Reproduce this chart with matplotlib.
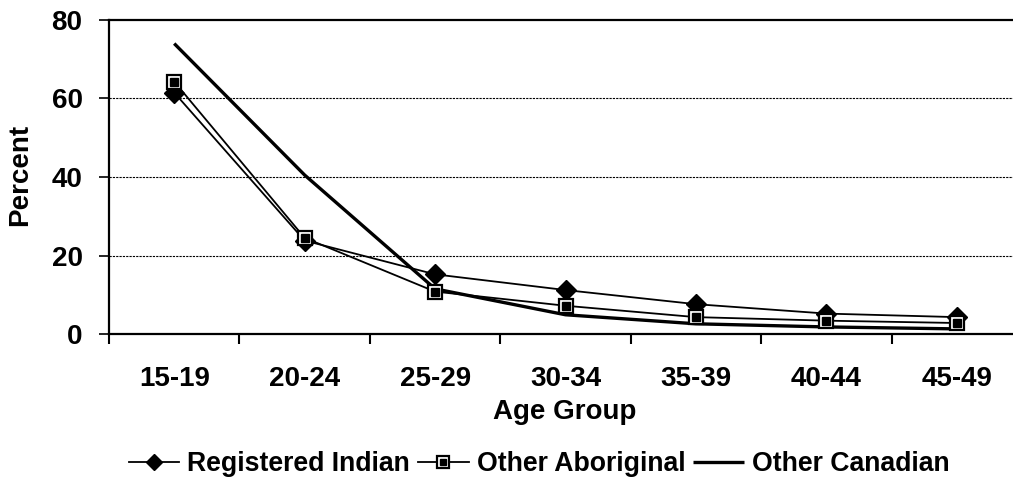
import matplotlib
matplotlib.use("Agg")
import matplotlib.pyplot as plt
from matplotlib.legend_handler import HandlerTuple
import numpy as np

categories = ["15-19", "20-24", "25-29", "30-34", "35-39", "40-44", "45-49"]
registered_indian = [61.5, 23.8, 15.2, 11.2, 7.6, 5.2, 4.3]
other_aboriginal = [64.3, 24.5, 10.8, 7.2, 4.3, 3.4, 2.8]
other_canadian = [74.0, 40.5, 11.5, 4.9, 2.6, 1.8, 1.3]
y_ticks = [0, 20, 40, 60, 80]

plt.rcParams['font.family'] = ['Liberation Sans', 'DejaVu Sans']
plt.rcParams['font.weight'] = 'bold'

W, H = 1013, 478
fig = plt.figure(figsize=(W / 100, H / 100), dpi=100)
ax = fig.add_axes([109 / W, (H - 334) / H, 913 / W, 314 / H])

x = np.arange(len(categories))

l_oc, = ax.plot(x, other_canadian, color='black', lw=2.4, solid_capstyle='butt', zorder=3)
l_ri, = ax.plot(x, registered_indian, color='black', lw=1.3, marker='D', markersize=10.5,
                markerfacecolor='black', markeredgecolor='black', zorder=4)
l_oa, = ax.plot(x, other_aboriginal, color='black', lw=1.3, marker='s', markersize=10,
                markerfacecolor='white', markeredgecolor='black', markeredgewidth=1.6, zorder=5)
l_oa2, = ax.plot(x, other_aboriginal, linestyle='none', marker='s', markersize=6,
                 markerfacecolor='black', markeredgecolor='black', zorder=6)

ax.set_xlim(-0.5, len(categories) - 0.5)
ax.set_ylim(0, 80)
ax.set_yticks(y_ticks)
ax.set_yticklabels([str(v) for v in y_ticks], fontsize=20, fontweight='bold')
ax.set_xticks(x)
ax.set_xticklabels(categories, fontsize=20, fontweight='bold')
ax.set_xticks(np.arange(-0.5, len(categories)), minor=True)
ax.tick_params(axis='x', which='major', length=0, pad=23)
ax.tick_params(axis='x', which='minor', length=7, width=1.5, direction='out')
ax.tick_params(axis='y', which='major', length=7, width=1.2, direction='out', pad=12)

for yv in y_ticks[1:-1]:
    ax.axhline(yv, color='black', lw=0.8, linestyle=(0, (2, 1)), zorder=1)

ax.spines['right'].set_visible(False)
for s in ['left', 'bottom', 'top']:
    ax.spines[s].set_linewidth(1.6)

fig.text(20 / W, 1 - 175 / H, "Percent", rotation=90, ha='center', va='center',
         fontsize=20, fontweight='bold')
fig.text(565 / W, 1 - 412 / H, "Age Group", ha='center', va='center',
         fontsize=20, fontweight='bold')

leg = fig.legend([l_ri, (l_oa, l_oa2), l_oc],
                 ["Registered Indian", "Other Aboriginal", "Other Canadian"],
                 handler_map={tuple: HandlerTuple(ndivide=1)},
                 loc='center', bbox_to_anchor=(539 / W, 1 - 464 / H),
                 ncol=3, frameon=False, fontsize=19.2, handlelength=1.9,
                 handletextpad=0.3, columnspacing=0.3, borderpad=0, markerscale=0.8)
for t in leg.get_texts():
    t.set_fontweight('bold')

fig.savefig("out.png", dpi=100)
